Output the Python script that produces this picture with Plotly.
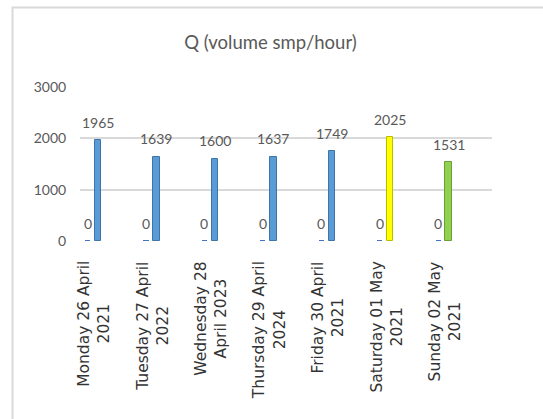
import plotly.graph_objects as go

# ---- data ----
categories = [
    "Monday 26 April<br>2021",
    "Tuesday 27 April<br>2022",
    "Wednesday 28<br>April 2023",
    "Thursday 29 April<br>2024",
    "Friday 30 April<br>2021",
    "Saturday 01 May<br>2021",
    "Sunday 02 May<br>2021",
]
zero_series = [0, 0, 0, 0, 0, 0, 0]
volume_series = [1965, 1639, 1600, 1637, 1749, 2025, 1531]
bar_colors = ["#5B9BD5", "#5B9BD5", "#5B9BD5", "#5B9BD5", "#5B9BD5", "#FFFF00", "#92D050"]
edge_colors = ["#3E75A8", "#3E75A8", "#3E75A8", "#3E75A8", "#3E75A8", "#BDBD00", "#6A9E3A"]
y_ticks = [0, 1000, 2000, 3000]

NUMFONT = "Lato, Liberation Sans, sans-serif"
idx = list(range(len(categories)))

ZERO_OFF, ZERO_W = -0.13, 0.09
VAL_OFF, VAL_W = 0.04, 0.11

fig = go.Figure()
fig.add_trace(go.Bar(
    x=idx, y=zero_series, offset=ZERO_OFF, width=ZERO_W,
    marker=dict(color="#4472C4", line=dict(color="#4472C4", width=2)),
    hoverinfo="skip", showlegend=False,
))
fig.add_trace(go.Bar(
    x=idx, y=volume_series, offset=VAL_OFF, width=VAL_W,
    marker=dict(color=bar_colors, line=dict(color=edge_colors, width=1)),
    hoverinfo="skip", showlegend=False,
))

annotations = []
for i in idx:
    annotations.append(dict(
        x=i + ZERO_OFF + ZERO_W / 2, y=zero_series[i], xref="x", yref="y",
        text=str(zero_series[i]), showarrow=False, yanchor="middle", yshift=18,
        font=dict(family=NUMFONT, size=14, color="#595959"),
    ))
    annotations.append(dict(
        x=i + VAL_OFF + VAL_W / 2, y=volume_series[i], xref="x", yref="y",
        text=str(volume_series[i]), showarrow=False, yanchor="middle", yshift=18,
        font=dict(family=NUMFONT, size=14, color="#595959"),
    ))
    annotations.append(dict(
        x=i, y=-0.119, xref="x", yref="paper", xshift=2,
        text=categories[i], showarrow=False, textangle=-90,
        xanchor="center", yanchor="top", align="center",
        font=dict(family="DejaVu Sans", size=15.5, color="#333333"),
    ))

fig.update_layout(
    width=543, height=419,
    margin=dict(l=80, r=51, t=86.5, b=177.5),
    paper_bgcolor="white", plot_bgcolor="white",
    title=dict(text="Q (volume smp/hour)", x=270.5 / 543, xanchor="center",
               y=1 - 43 / 419, yanchor="middle",
               font=dict(family=NUMFONT, size=18.5, color="#595959")),
    bargap=0,
    hovermode=False,
    xaxis=dict(range=[-0.214, 6.837], showticklabels=False, showgrid=False,
               zeroline=False, showline=False, ticks=""),
    yaxis=dict(range=[0, 3000], tickvals=y_ticks, showgrid=True,
               gridcolor="#D9D9D9", gridwidth=1.5, zeroline=False, showline=False,
               ticks="outside", ticklen=10, tickcolor="rgba(0,0,0,0)",
               tickfont=dict(family=NUMFONT, size=14, color="#595959")),
    annotations=annotations,
    shapes=[dict(type="rect", xref="paper", yref="paper",
                 x0=-0.1638, x1=1.16, y0=-1.3, y1=1.516,
                 line=dict(color="#D9D9D9", width=2), fillcolor="rgba(0,0,0,0)",
                 layer="below")],
)

fig.write_html("out.html", config={"displayModeBar": False},
               post_script="document.body.style.margin='0';")
